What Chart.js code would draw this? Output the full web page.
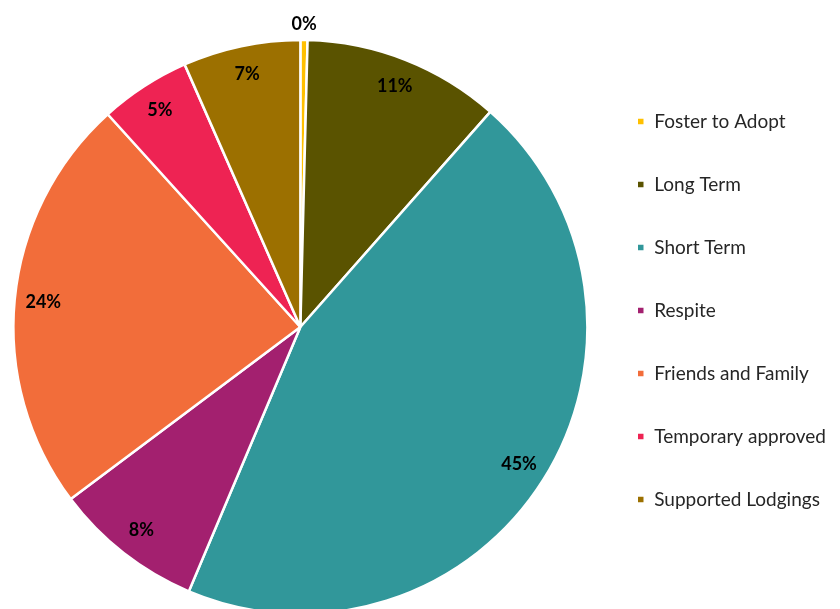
<!DOCTYPE html>
<html>
<head>
<meta charset="utf-8">
<script src="https://cdn.jsdelivr.net/npm/chart.js@4/dist/chart.umd.min.js"></script>
<style>
  html, body { margin: 0; padding: 0; background: #ffffff; overflow: hidden; }
  #wrap { width: 840px; height: 609px; }
</style>
</head>
<body>
<div id="wrap"><canvas id="chart" width="840" height="609"></canvas></div>
<script>
// Placement types and their share of placements
const categories = ['Foster to Adopt', 'Long Term', 'Short Term', 'Respite', 'Friends and Family', 'Temporary approved', 'Supported Lodgings'];
const shares = [0.4, 11.1, 44.8, 8.4, 23.5, 5.1, 6.6];
const sliceColors = ['#FFC000', '#5A5300', '#31979A', '#A3206F', '#F26D3A', '#EE2353', '#9C7000'];

// Percentage labels written on each slice
const percentLabels = {
  id: 'percentLabels',
  afterDatasetsDraw(chart) {
    const ctx = chart.ctx;
    const meta = chart.getDatasetMeta(0);
    const data = chart.data.datasets[0].data;
    const total = data.reduce((a, b) => a + b, 0);
    ctx.save();
    ctx.font = 'bold 18px Lato, "Liberation Sans", sans-serif';
    ctx.fillStyle = '#000000';
    ctx.textAlign = 'center';
    ctx.textBaseline = 'middle';
    meta.data.forEach((arc, i) => {
      const p = arc.getProps(['x', 'y', 'startAngle', 'endAngle', 'outerRadius'], true);
      const mid = (p.startAngle + p.endAngle) / 2;
      const pct = data[i] / total * 100;
      // tiny slices get their label just outside the rim
      const r = pct < 2 ? p.outerRadius + 16 : p.outerRadius * 0.9;
      const x = p.x + Math.cos(mid) * r;
      const y = p.y + Math.sin(mid) * r;
      ctx.fillText(Math.round(pct) + '%', x, y);
    });
    ctx.restore();
  }
};

new Chart(document.getElementById('chart'), {
  type: 'pie',
  data: {
    labels: categories,
    datasets: [{
      data: shares,
      backgroundColor: sliceColors,
      borderColor: '#ffffff',
      borderWidth: 2.5,
      hoverOffset: 0
    }]
  },
  options: {
    responsive: false,
    animation: false,
    radius: 287,
    layout: { padding: { left: 8, top: 45, right: 4, bottom: 0 } },
    plugins: {
      tooltip: { enabled: false },
      legend: {
        position: 'right',
        align: 'start',
        maxWidth: 248,
        title: {
          display: true,
          text: ' ',
          font: { size: 10 },
          padding: { top: 5, bottom: 6 }
        },
        labels: {
          boxWidth: 8,
          boxHeight: 8,
          padding: 44,
          color: '#262626',
          font: { family: 'Lato, "Liberation Sans", sans-serif', size: 19 }
        }
      }
    }
  },
  plugins: [percentLabels]
});
</script>
</body>
</html>
